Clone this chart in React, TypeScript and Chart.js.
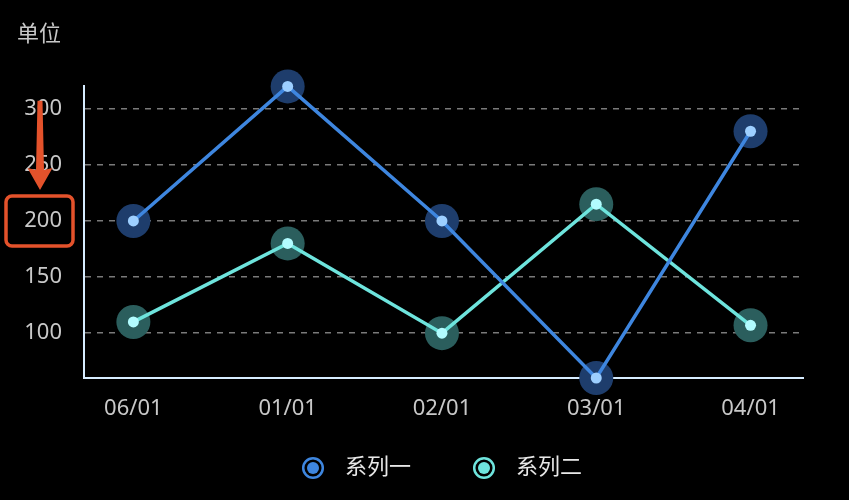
import { useEffect, useRef } from 'react';
import Chart from 'chart.js/auto';

const categories = ['06/01', '01/01', '02/01', '03/01', '04/01'];
const seriesOne = [200, 320, 200, 60, 280];
const seriesTwo = [110, 180, 100, 215, 107];
const yTicks = [100, 150, 200, 250, 300];
const seriesNames = ['系列一', '系列二'];

const FONT = "'Noto Sans', 'Noto Sans CJK SC', sans-serif";
const BLUE = '#3e86df';
const CYAN = '#6ee4dd';

// legend marker: ring + dot, drawn right of the image centre so the
// legend box can be wider than the marker
function legendIcon(color: string) {
  const c = document.createElement('canvas');
  c.width = 48;
  c.height = 24;
  const ctx = c.getContext('2d')!;
  const cx = 35;
  ctx.strokeStyle = color;
  ctx.lineWidth = 2.5;
  ctx.beginPath();
  ctx.arc(cx, 12, 9.8, 0, Math.PI * 2);
  ctx.stroke();
  ctx.fillStyle = color;
  ctx.beginPath();
  ctx.arc(cx, 12, 6, 0, Math.PI * 2);
  ctx.fill();
  return c;
}

// red arrow + box around the 200 tick, drawn on top
const markPlugin = {
  id: 'mark',
  afterDraw(chart: Chart) {
    const y = chart.scales.y;
    const ctx = chart.ctx;
    const cy = y.getPixelForValue(200);
    const top = y.getPixelForValue(318);
    ctx.save();
    ctx.strokeStyle = '#e4522b';
    ctx.fillStyle = '#e4522b';
    ctx.lineWidth = 3.5;
    ctx.beginPath();
    ctx.roundRect(6, cy - 25, 67, 50, 6);
    ctx.stroke();
    const ax = 40;
    const tip = cy - 31;
    ctx.beginPath();
    ctx.moveTo(ax - 2.5, top + 12);
    ctx.lineTo(ax + 2.5, top + 12);
    ctx.lineTo(ax + 4, tip - 20);
    ctx.lineTo(ax + 12.5, tip - 22);
    ctx.lineTo(ax, tip);
    ctx.lineTo(ax - 12.5, tip - 22);
    ctx.lineTo(ax - 4, tip - 20);
    ctx.closePath();
    ctx.fill();
    ctx.restore();
  },
};

function LineChart() {
  const canvasRef = useRef<HTMLCanvasElement>(null);
  const chartRef = useRef<Chart | null>(null);

  useEffect(() => {
    if (!canvasRef.current) return;
    if (chartRef.current) chartRef.current.destroy();
    const ctx = canvasRef.current.getContext('2d');
    if (!ctx) return;

    const pts = (arr: number[]) => arr.map((v, i) => ({ x: i, y: v }));
    const icons = [legendIcon(BLUE), legendIcon(CYAN)];

    chartRef.current = new Chart(ctx, {
      type: 'line',
      data: {
        datasets: [
          {
            label: seriesNames[0],
            data: pts(seriesOne),
            borderColor: BLUE,
            borderWidth: 3.5,
            pointRadius: 5.5,
            pointBackgroundColor: '#9dcfff',
            pointBorderWidth: 0,
            clip: false,
            order: 0,
          },
          {
            label: seriesNames[1],
            data: pts(seriesTwo),
            borderColor: CYAN,
            borderWidth: 3.5,
            pointRadius: 5.5,
            pointBackgroundColor: '#b2fcff',
            pointBorderWidth: 0,
            clip: false,
            order: 1,
          },
          {
            label: 'halo1',
            data: pts(seriesOne),
            showLine: false,
            pointRadius: 17,
            pointBackgroundColor: '#1e3d6c',
            pointBorderWidth: 0,
            clip: false,
            order: 5,
          },
          {
            label: 'halo2',
            data: pts(seriesTwo),
            showLine: false,
            pointRadius: 17,
            pointBackgroundColor: '#2b5e5d',
            pointBorderWidth: 0,
            clip: false,
            order: 5,
          },
        ],
      },
      options: {
        responsive: true,
        maintainAspectRatio: false,
        animation: false,
        layout: { padding: { left: 17, right: 14, top: 0, bottom: 11 } },
        plugins: {
          tooltip: { enabled: false },
          title: {
            display: true,
            text: '单位',
            align: 'start',
            color: '#c8c8c8',
            font: { family: FONT, size: 22, weight: 'normal' },
            padding: { top: 22, bottom: 38 },
          },
          legend: {
            position: 'bottom',
            labels: {
              usePointStyle: true,
              pointStyleWidth: 64,
              padding: 30,
              color: '#e8e8e8',
              font: { family: FONT, size: 22 },
              generateLabels: () =>
                seriesNames.map((name, i) => ({
                  text: name,
                  pointStyle: icons[i],
                  datasetIndex: i,
                  fontColor: '#e8e8e8',
                  lineWidth: 0,
                  strokeStyle: 'transparent',
                  fillStyle: 'transparent',
                })),
            },
          },
        },
        scales: {
          x: {
            type: 'linear',
            min: -0.32,
            max: 4.34,
            afterBuildTicks: (s: any) => {
              s.ticks = categories.map((_, i) => ({ value: i }));
            },
            afterFit: (s: any) => {
              s.height = 49;
            },
            grid: { display: false, drawTicks: false },
            border: { display: true, color: '#d6ecff', width: 2 },
            ticks: {
              color: '#c8c8c8',
              padding: 18,
              font: { family: FONT, size: 22 },
              callback: (v: any) => categories[v] ?? '',
            },
          },
          y: {
            min: 60,
            max: 320,
            afterBuildTicks: (s: any) => {
              s.ticks = yTicks.map((v) => ({ value: v }));
            },
            afterFit: (s: any) => {
              s.width = 67;
            },
            grid: {
              color: '#7a7a7a',
              lineWidth: 1.5,
              drawTicks: false,
            },
            border: { display: true, color: '#d6ecff', width: 2, dash: [6, 6] },
            ticks: {
              color: '#c8c8c8',
              padding: 22,
              font: { family: FONT, size: 22 },
            },
          },
          yRight: {
            position: 'right',
            min: 0,
            max: 1,
            afterFit: (s: any) => {
              s.width = 32;
            },
            grid: { display: false },
            border: { display: false },
            ticks: { display: false },
          },
        },
      },
      plugins: [markPlugin],
    });

    return () => {
      if (chartRef.current) {
        chartRef.current.destroy();
        chartRef.current = null;
      }
    };
  }, []);

  return (
    <div style={{ width: 849, height: 500, position: 'relative' }}>
      <canvas ref={canvasRef}></canvas>
    </div>
  );
}

export default function App() {
  useEffect(() => {
    document.body.style.margin = '0';
    document.body.style.background = '#000';
  }, []);
  return (
    <div style={{ background: '#000', width: 849, height: 500 }}>
      <LineChart />
    </div>
  );
}
